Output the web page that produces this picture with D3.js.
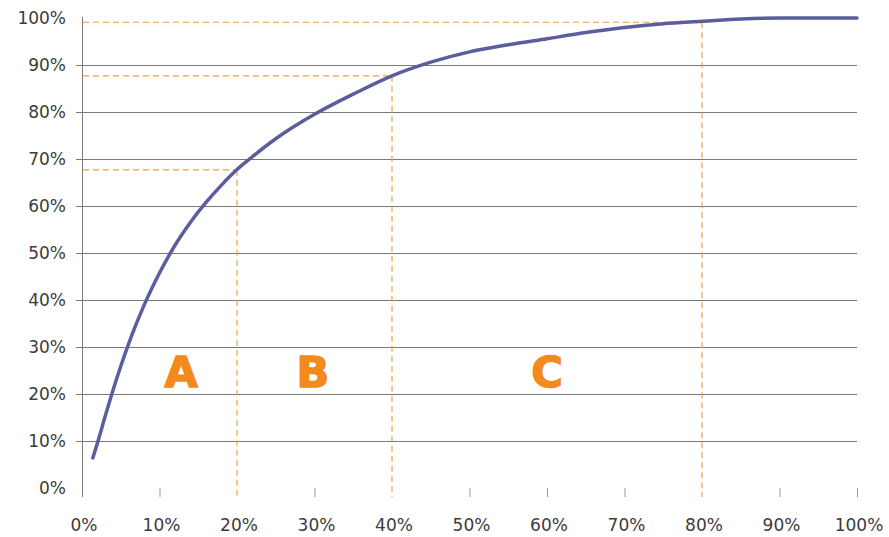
<!DOCTYPE html>
<html>
<head>
<meta charset="utf-8">
<script src="https://cdn.jsdelivr.net/npm/d3@7"></script>
<style>
  body { margin: 0; background: #fff; }
  svg text { font-family: "DejaVu Sans", Verdana, sans-serif; }
</style>
</head>
<body>
<svg id="chart" width="889" height="537"></svg>
<script>
const width = 889;
const height = 537;

// cumulative share of items (x, %) vs cumulative share of value (y, %)
const itemShare  = [1.4, 2, 3, 4, 5, 6, 7, 8, 9, 10, 12, 14, 16, 18, 20, 22, 25, 30, 35, 40, 45, 50, 55, 60, 65, 70, 75, 80, 85, 90, 95, 100];
const valueShare = [6.4, 9.6, 15.3, 20.8, 25.9, 30.6, 34.9, 38.85, 42.45, 45.75, 51.65, 56.55, 60.75, 64.45, 67.75, 70.5, 74.3, 79.5, 83.8, 87.7, 90.6, 92.8, 94.3, 95.6, 96.9, 98, 98.8, 99.3, 99.8, 100, 100, 100];

const xTicks = [0, 10, 20, 30, 40, 50, 60, 70, 80, 90, 100];
const yTicks = [0, 10, 20, 30, 40, 50, 60, 70, 80, 90, 100];
const gridTicks = [10, 20, 30, 40, 50, 60, 70, 80, 90];

// ABC cut-offs (x %, y %)
const cutX = [20, 40, 80];
const cutY = [67.7, 87.7, 99.1];

const classNames = ["A", "B", "C"];
const classX = [12.8, 29.8, 60];
const classY = 21.5;

const x = d3.scaleLinear().domain([0, 100]).range([82, 857]);
const y = d3.scaleLinear().domain([0, 100]).range([488, 18]);

const svg = d3.select("#chart")
  .attr("viewBox", [0, 0, width, height]);

// gridlines
svg.append("g")
  .attr("stroke", "#7a7a7a")
  .attr("stroke-width", 1)
  .selectAll("line")
  .data(gridTicks)
  .join("line")
    .attr("x1", x(0) - 6)
    .attr("x2", x(100))
    .attr("y1", d => y(d) + 0.5)
    .attr("y2", d => y(d) + 0.5);

// x tick marks
svg.append("g")
  .attr("stroke", "#9a9a9a")
  .attr("stroke-width", 1)
  .selectAll("line")
  .data(xTicks.filter(d => d > 0 && !cutX.includes(d)))
  .join("line")
    .attr("x1", d => x(d) + 0.5)
    .attr("x2", d => x(d) + 0.5)
    .attr("y1", y(0))
    .attr("y2", y(0) + 9);

// y axis line
svg.append("line")
  .attr("x1", x(0) + 0.5).attr("x2", x(0) + 0.5)
  .attr("y1", y(100) - 1).attr("y2", y(0) + 9)
  .attr("stroke", "#7a7a7a");

// dashed cut-off guides
const guides = d3.zip(cutX, cutY);
const dash = svg.append("g")
  .attr("stroke", "#f0a040")
  .attr("stroke-width", 1.2)
  .attr("stroke-dasharray", "6,4")
  .attr("fill", "none");

dash.selectAll(".h")
  .data(guides)
  .join("line")
    .attr("class", "h")
    .attr("x1", x(0) + 1)
    .attr("x2", d => x(d[0]))
    .attr("y1", d => y(d[1]))
    .attr("y2", d => y(d[1]));

dash.selectAll(".v")
  .data(guides)
  .join("line")
    .attr("class", "v")
    .attr("x1", d => x(d[0]))
    .attr("x2", d => x(d[0]))
    .attr("y1", d => y(d[1]))
    .attr("y2", y(0) + 9);

// curve
const line = d3.line()
  .x(d => x(d[0]))
  .y(d => y(d[1]))
  .curve(d3.curveMonotoneX);

svg.append("path")
  .datum(d3.zip(itemShare, valueShare))
  .attr("d", line)
  .attr("fill", "none")
  .attr("stroke", "#5b5d9c")
  .attr("stroke-width", 3.5)
  .attr("stroke-linecap", "round")
  .attr("stroke-linejoin", "round");

// y labels
svg.append("g")
  .selectAll("text")
  .data(yTicks)
  .join("text")
    .attr("x", 66)
    .attr("y", d => y(d) + 6)
    .attr("text-anchor", "end")
    .attr("font-size", 17)
    .attr("fill", "#3c3c3c")
    .text(d => d + "%");

// x labels
svg.append("g")
  .selectAll("text")
  .data(xTicks)
  .join("text")
    .attr("x", d => x(d) + 2)
    .attr("y", 531)
    .attr("text-anchor", "middle")
    .attr("font-size", 17)
    .attr("fill", "#3c3c3c")
    .text(d => d + "%");

// class letters
svg.append("g")
  .selectAll("text")
  .data(d3.zip(classNames, classX))
  .join("text")
    .attr("x", d => x(d[1]))
    .attr("y", y(classY))
    .attr("text-anchor", "middle")
    .attr("font-family", "'Liberation Sans', Arial, sans-serif")
    .attr("font-weight", "bold")
    .attr("font-size", 43)
    .attr("fill", "#f28a1c")
    .attr("stroke", "#f28a1c")
    .attr("stroke-width", 1.5)
    .text(d => d[0]);
</script>
</body>
</html>
